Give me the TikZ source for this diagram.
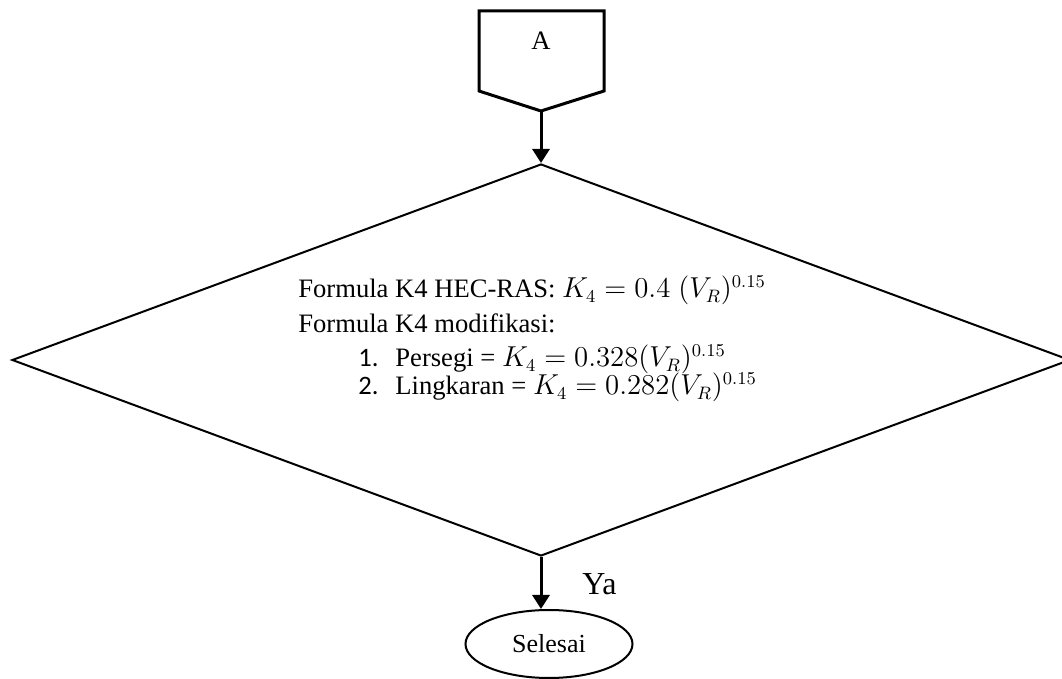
\documentclass[tikz,border=0pt]{standalone}
\usepackage{fontspec}
\setmainfont{Liberation Serif}
\newfontfamily\numfont{Carlito}
\usetikzlibrary{shapes.geometric,arrows.meta}

\begin{document}
\begin{tikzpicture}[
    x=0.5pt, y=-0.5pt,
    connector/.style={draw, line width=1.5pt, line join=miter},
    decision/.style={diamond, draw, line width=1pt, minimum width=529pt, minimum height=196pt, inner sep=0pt},
    terminal/.style={ellipse, draw, line width=1pt, minimum width=83.5pt, minimum height=34pt, inner sep=0pt, font=\fontsize{13}{15}\selectfont},
    flow/.style={-{Triangle[length=7pt,width=8.5pt]}, line width=1.5pt},
    textline/.style={anchor=base west, inner sep=0pt},
    every node/.style={font=\fontsize{13.3}{16}\selectfont}
  ]

  \useasboundingbox (0,0) rectangle (1062,679);

  % Off-page connector
  \draw[connector] (479,11) -- (604,11) -- (604,91) -- (541,111) -- (479,91) -- cycle;
  \coordinate (A-tip) at (541,111);
  \node (A) at (541,41) {A};

  % Decision
  \node[decision] (D) at (541,360) {};

  \node[textline] (L-1) at (298,298) {Formula K4 HEC-RAS: $K_4 = 0.4\;(V_R)^{0.15}$};
  \node[textline] (L-2) at (298,333) {Formula K4 modifikasi:};
  \node[textline] (N-1) at (358,367) {\numfont 1.};
  \node[textline] (M-1) at (395,367) {Persegi = $K_4 = 0.328(V_R)^{0.15}$};
  \node[textline] (N-2) at (358,395) {\numfont 2.};
  \node[textline] (M-2) at (395,395) {Lingkaran = $K_4 = 0.282(V_R)^{0.15}$};

  % End
  \node[terminal] (S) at (549,644) {Selesai};
  \node[textline, font=\fontsize{16}{19}\selectfont] (Y) at (582,595) {Ya};

  % Connections
  \draw[flow] (A-tip) -- (D.north);
  \draw[flow] (D.south) -- (D.south |- S.north);

\end{tikzpicture}
\end{document}
